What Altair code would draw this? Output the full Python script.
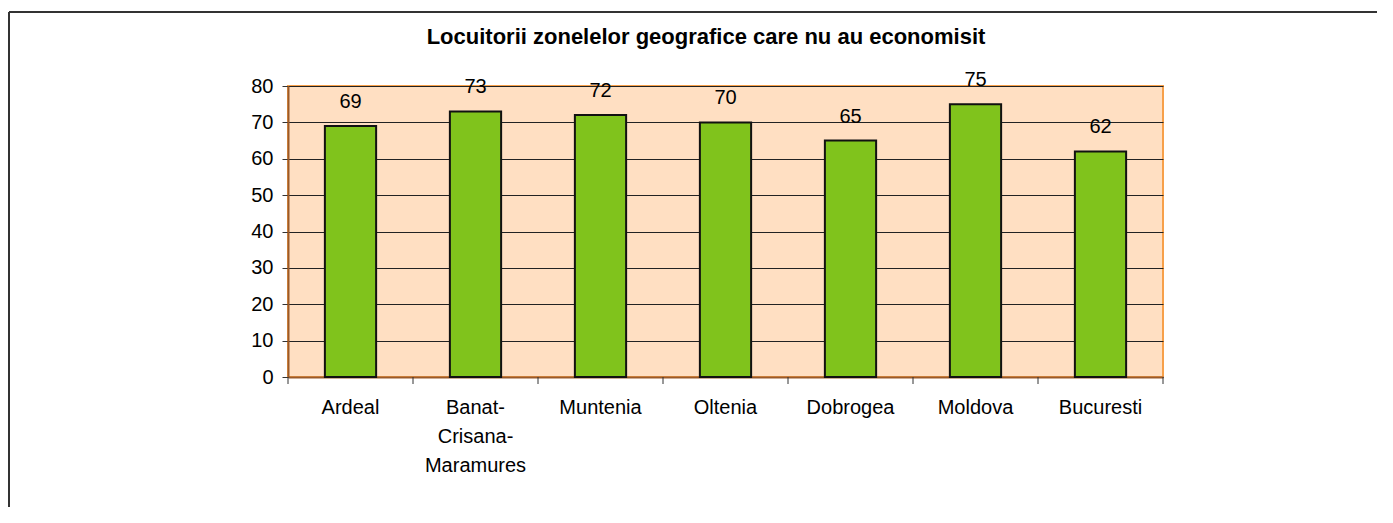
import altair as alt
import pandas as pd

categories = ["Ardeal", "Banat-Crisana-Maramures", "Muntenia", "Oltenia", "Dobrogea", "Moldova", "Bucuresti"]
values = [69, 73, 72, 70, 65, 75, 62]
y_ticks = [0, 10, 20, 30, 40, 50, 60, 70, 80]
title_text = "Locuitorii zonelelor geografice care nu au economisit"

df = pd.DataFrame({"zona": categories, "valoare": values})

W, H = 875, 291
FONT = "Liberation Sans"

xscale = alt.Scale(domain=categories, paddingInner=0, paddingOuter=0)
yscale = alt.Scale(domain=[0, 80], nice=False)

x_axis = alt.Axis(labelAngle=0, ticks=False, domain=True, domainColor="#9A5A2A",
                  domainWidth=2, labelFont=FONT, labelFontSize=20, labelColor="#000000",
                  labelPadding=20, labelLineHeight=29, labelOverlap=False,
                  labelExpr="split(replace(datum.label, regexp('-', 'g'), '-|'), '|')")
y_axis = alt.Axis(values=y_ticks, grid=True, gridColor="#222222",
                  gridWidth=1, gridOpacity=1, tickColor="#333333", tickSize=6,
                  domainColor="#9A5A2A", domainWidth=2, labelOverlap=False,
                  labelFont=FONT, labelFontSize=20, labelColor="#000000", labelPadding=9)

base = alt.Chart(df)

bars = base.mark_bar(
    color="#80C31C", stroke="#111111", strokeWidth=2,
    width=alt.RelativeBandSize(0.41),
).encode(
    x=alt.X("zona:N", scale=xscale, sort=categories, title=None, axis=x_axis),
    y=alt.Y("valoare:Q", scale=yscale, title=None, axis=y_axis),
)

labels = base.mark_text(
    font=FONT, fontSize=20, color="#000000", baseline="alphabetic", dy=-18,
).encode(
    x=alt.X("zona:N", scale=xscale, sort=categories, title=None, axis=x_axis),
    y=alt.Y("valoare:Q", scale=yscale, title=None, axis=y_axis),
    text=alt.Text("valoare:Q"),
)

ticks_left = base.mark_rule(color="#333333", strokeWidth=1).encode(
    x=alt.X("zona:N", scale=xscale, sort=categories, bandPosition=0, title=None, axis=x_axis),
    y=alt.value(H),
    y2=alt.value(H + 7),
)

ticks_right = alt.Chart(df.tail(1)).mark_rule(color="#333333", strokeWidth=1).encode(
    x=alt.X("zona:N", scale=xscale, sort=categories, bandPosition=1, title=None, axis=x_axis),
    y=alt.value(H),
    y2=alt.value(H + 7),
)

title = alt.Chart(pd.DataFrame({"t": [title_text]})).mark_text(
    font=FONT, fontSize=22, fontWeight="bold", color="#000000", baseline="middle", align="center",
).encode(
    x=alt.value(418), y=alt.value(-49), text="t:N",
)

frame_top = alt.Chart(pd.DataFrame({"a": [0]})).mark_rule(color="#333333", strokeWidth=2).encode(
    x=alt.value(-279), x2=alt.value(1200), y=alt.value(-74),
)
frame_left = alt.Chart(pd.DataFrame({"a": [0]})).mark_rule(color="#333333", strokeWidth=2).encode(
    x=alt.value(-279), y=alt.value(-74), y2=alt.value(500),
)

chart = alt.layer(bars, labels, ticks_left, ticks_right, title, frame_top, frame_left).properties(
    width=W, height=H,
    autosize=alt.AutoSizeParams(type="none"),
    padding={"left": 280, "top": 78, "right": 214, "bottom": 130},
).configure(
    background="#FFFFFF",
).configure_view(
    fill="#FFDFC2", stroke="#F7A04A", strokeWidth=2,
)

chart.save("out.html", embed_options={"renderer": "svg", "actions": False})
